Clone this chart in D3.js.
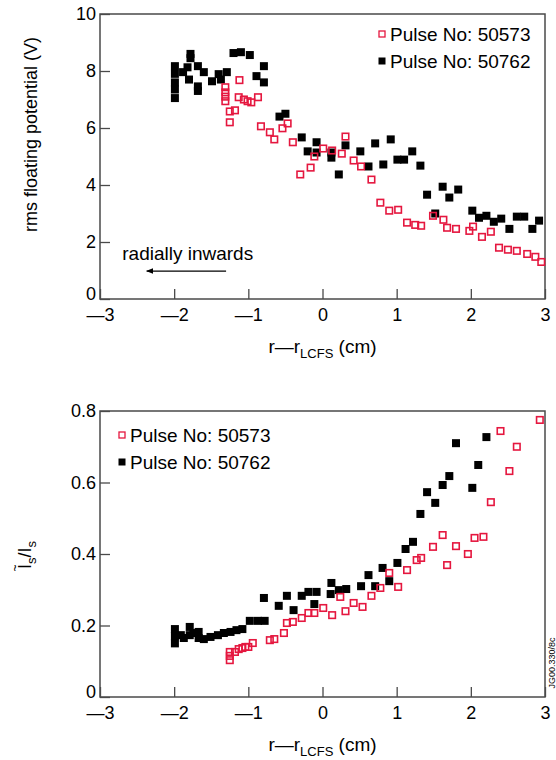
<!DOCTYPE html>
<html>
<head>
<meta charset="utf-8">
<script src="https://cdn.jsdelivr.net/npm/d3@7"></script>
<style>
  body { margin: 0; background: #fff; }
  text { font-family: "Liberation Sans", Arial, sans-serif; fill: #000; }
</style>
</head>
<body>
<script>
// tick values
var xTicks = [-3, -2, -1, 0, 1, 2, 3];
var potTicks = [0, 2, 4, 6, 8, 10];
var fluxTicks = [0, 0.2, 0.4, 0.6, 0.8];
var pulses = ["Pulse No: 50573", "Pulse No: 50762"];

// top panel: rms floating potential (V) vs r - r_LCFS (cm)
var pot50573 = [
  [-1.31, 7.43], [-1.31, 7.25], [-1.31, 7.1], [-1.31, 6.94], [-1.12, 7.68], [-1.13, 7.08],
  [-1.06, 7.0], [-1.01, 6.94], [-0.96, 6.9], [-0.87, 7.08], [-1.25, 6.58], [-1.18, 6.62],
  [-1.25, 6.2], [-0.83, 6.06], [-0.71, 5.85], [-0.65, 5.6], [-0.54, 5.99], [-0.47, 6.16],
  [-0.40, 5.5], [-0.30, 4.37], [-0.16, 4.61], [-0.11, 5.0], [0.01, 5.28], [0.13, 5.21],
  [0.26, 5.1], [0.31, 5.7], [0.42, 4.86], [0.52, 4.65], [0.66, 4.19], [0.78, 3.38],
  [0.90, 3.1], [1.02, 3.13], [1.14, 2.68], [1.25, 2.6], [1.33, 2.57], [1.49, 2.92],
  [1.63, 2.78], [1.68, 2.5], [1.80, 2.46], [1.98, 2.39], [2.03, 2.54], [2.15, 2.18],
  [2.27, 2.36], [2.38, 1.8], [2.50, 1.73], [2.62, 1.69], [2.76, 1.58], [2.87, 1.48],
  [2.95, 1.3]
];
var pot50762 = [
  [-1.78, 8.6], [-1.78, 8.45], [-1.99, 8.17], [-1.99, 7.9], [-1.99, 7.6], [-1.99, 7.35],
  [-1.99, 7.05], [-1.88, 7.96], [-1.82, 8.13], [-1.80, 7.7], [-1.68, 8.17], [-1.68, 7.46],
  [-1.68, 7.3], [-1.60, 7.96], [-1.49, 7.64], [-1.40, 7.89], [-1.37, 7.7], [-1.29, 7.96],
  [-1.20, 8.63], [-1.10, 8.66], [-0.98, 8.56], [-0.89, 7.82], [-0.79, 8.17], [-0.79, 7.6],
  [-0.58, 6.4], [-0.50, 6.5], [-0.28, 5.67], [-0.08, 5.5], [-0.20, 5.18], [-0.08, 5.14],
  [0.12, 5.14], [0.12, 4.96], [0.31, 5.39], [0.22, 4.37], [0.51, 5.18], [0.71, 5.46],
  [0.92, 5.6], [0.62, 4.65], [0.82, 4.72], [1.01, 4.89], [1.10, 4.89], [1.21, 5.18],
  [1.32, 4.68], [1.41, 3.66], [1.62, 3.94], [1.71, 3.56], [1.83, 3.84], [1.52, 3.0],
  [2.02, 3.1], [2.11, 2.85], [2.21, 2.92], [2.31, 2.71], [2.41, 2.82], [2.52, 2.46],
  [2.62, 2.89], [2.72, 2.89], [2.83, 2.46], [2.92, 2.75]
];

// bottom panel: relative ion saturation current fluctuation
var flux50573 = [
  [-1.25, 0.126], [-1.25, 0.115], [-1.25, 0.103], [-1.18, 0.126], [-1.13, 0.134],
  [-1.08, 0.137], [-1.04, 0.14], [-1.00, 0.14], [-0.94, 0.151], [-0.71, 0.159],
  [-0.65, 0.162], [-0.52, 0.179], [-0.48, 0.207], [-0.40, 0.21], [-0.28, 0.221],
  [-0.19, 0.235], [-0.11, 0.235], [0.01, 0.249], [0.13, 0.229], [0.24, 0.28],
  [0.31, 0.24], [0.42, 0.263], [0.54, 0.252], [0.66, 0.283], [0.78, 0.305],
  [0.90, 0.347], [1.02, 0.308], [1.14, 0.355], [1.27, 0.383], [1.33, 0.389],
  [1.49, 0.42], [1.62, 0.453], [1.68, 0.369], [1.80, 0.422], [1.96, 0.4],
  [2.05, 0.445], [2.17, 0.448], [2.27, 0.545], [2.52, 0.632], [2.62, 0.7],
  [2.40, 0.744], [2.93, 0.775]
];
var flux50762 = [
  [-1.99, 0.19], [-1.99, 0.17], [-1.99, 0.15], [-1.91, 0.173], [-1.87, 0.165],
  [-1.79, 0.196], [-1.79, 0.173], [-1.74, 0.179], [-1.67, 0.182], [-1.67, 0.165],
  [-1.60, 0.162], [-1.51, 0.168], [-1.41, 0.173], [-1.33, 0.179], [-1.24, 0.182],
  [-1.16, 0.187], [-1.08, 0.19], [-0.98, 0.213], [-0.87, 0.213], [-0.78, 0.213],
  [-0.79, 0.277], [-0.59, 0.255], [-0.48, 0.283], [-0.39, 0.243], [-0.28, 0.283],
  [-0.19, 0.294], [-0.08, 0.294], [-0.11, 0.26], [0.11, 0.288], [0.12, 0.319],
  [0.22, 0.299], [0.32, 0.302], [0.52, 0.31], [0.71, 0.31], [0.90, 0.324],
  [0.62, 0.341], [0.81, 0.361], [1.01, 0.375], [1.12, 0.414], [1.22, 0.434],
  [1.32, 0.512], [1.52, 0.543], [1.41, 0.573], [1.62, 0.593], [1.71, 0.618],
  [2.02, 0.585], [2.10, 0.649], [1.80, 0.71], [2.21, 0.727]
];

var red = "#e5173f";
var frameColor = "#4a4a4a";
var W = 556, H = 760;

var svg = d3.select("body").append("svg")
  .attr("width", W)
  .attr("height", H);

var x = d3.scaleLinear().domain([-3, 3]).range([100, 545]);

function fmtX(d) {
  return d < 0 ? "\u2014" + Math.abs(d) : String(d);
}

function drawPanel(p) {
  var y = d3.scaleLinear().domain(p.yDomain).range([p.bottom, p.top]);
  var g = svg.append("g");

  // frame
  g.append("rect")
    .attr("x", x(-3)).attr("y", p.top)
    .attr("width", x(3) - x(-3)).attr("height", p.bottom - p.top)
    .attr("fill", "none").attr("stroke", frameColor).attr("stroke-width", 1.5);

  var yAxis = d3.axisLeft(y).tickValues(p.yTicks).tickSize(-10).tickSizeOuter(0)
    .tickPadding(4).tickFormat(p.yFmt);
  var gy = g.append("g").attr("transform", "translate(" + x(-3) + ",0)").call(yAxis);
  // the zero label sits a little above the corner
  gy.selectAll("text").filter(function(d) { return d === 0; }).attr("y", -5);

  var xAxis = d3.axisBottom(x).tickValues(xTicks).tickSize(-10).tickSizeOuter(0)
    .tickPadding(9).tickFormat(fmtX);
  var gx = g.append("g").attr("transform", "translate(0," + p.bottom + ")").call(xAxis);

  [gx, gy].forEach(function(a) {
    a.select(".domain").remove();
    a.selectAll("line").attr("stroke", frameColor).attr("stroke-width", 1.3);
    a.selectAll("text").style("font-size", "18px").attr("fill", "#000");
  });

  // black series first, red open squares on top
  var s = 8;
  g.selectAll(".blk").data(p.black).enter().append("rect")
    .attr("x", function(d) { return x(d[0]) - s / 2; })
    .attr("y", function(d) { return y(d[1]) - s / 2; })
    .attr("width", s).attr("height", s)
    .attr("fill", "#000");

  g.selectAll(".rd").data(p.red).enter().append("rect")
    .attr("x", function(d) { return x(d[0]) - s / 2 + 0.75; })
    .attr("y", function(d) { return y(d[1]) - s / 2 + 0.75; })
    .attr("width", s - 1.5).attr("height", s - 1.5)
    .attr("fill", "none").attr("stroke", red).attr("stroke-width", 1.6);

  // legend
  var lg = g.append("g").attr("transform", "translate(" + p.legX + "," + p.legY + ")");
  pulses.forEach(function(name, i) {
    var row = lg.append("g").attr("transform", "translate(0," + (i * 27) + ")");
    if (i === 0) {
      row.append("rect").attr("x", -3).attr("y", -3).attr("width", 6).attr("height", 6)
        .attr("fill", "none").attr("stroke", red).attr("stroke-width", 1.3);
    } else {
      row.append("rect").attr("x", -3.5).attr("y", -3.5).attr("width", 7).attr("height", 7)
        .attr("fill", "#000");
    }
    row.append("text").attr("x", 8).attr("dy", "0.36em")
      .style("font-size", "19px").text(name);
  });

  // x axis title
  var xt = g.append("text")
    .attr("x", x(0)).attr("y", p.bottom + 54)
    .attr("text-anchor", "middle")
    .style("font-size", "19px");
  xt.append("tspan").text("r\u2014r");
  xt.append("tspan").attr("dy", 5).style("font-size", "13px").text("LCFS");
  xt.append("tspan").attr("dy", -5).text(" (cm)");

  return y;
}

var yTop = drawPanel({
  top: 14, bottom: 299, yDomain: [0, 10], yTicks: potTicks,
  yFmt: function(d) { return String(d); },
  black: pot50762, red: pot50573, legX: 382, legY: 34
});

var yBot = drawPanel({
  top: 411, bottom: 697, yDomain: [0, 0.8], yTicks: fluxTicks,
  yFmt: function(d) { return d === 0 ? "0" : d3.format(".1f")(d); },
  black: flux50762, red: flux50573, legX: 122, legY: 435
});

// y axis titles
svg.append("text")
  .attr("transform", "translate(37," + ((14 + 299) / 2 - 22) + ") rotate(-90)")
  .attr("text-anchor", "middle")
  .style("font-size", "18px")
  .text("rms floating potential (V)");

var it = svg.append("text")
  .attr("transform", "translate(31,555) rotate(-90)")
  .attr("text-anchor", "middle")
  .style("font-size", "18px");
it.append("tspan").text("I");
it.append("tspan").attr("dy", 5).style("font-size", "13px").text("s");
it.append("tspan").attr("dy", -5).text("/I");
it.append("tspan").attr("dy", 5).style("font-size", "13px").text("s");
// tilde over the first I
svg.append("text")
  .attr("transform", "translate(19,568) rotate(-90)")
  .attr("text-anchor", "middle")
  .style("font-size", "12px")
  .text("~");

// annotation: radially inwards
svg.append("defs").append("marker")
  .attr("id", "arr").attr("viewBox", "0 0 10 10")
  .attr("refX", 9).attr("refY", 5)
  .attr("markerWidth", 6).attr("markerHeight", 6)
  .attr("orient", "auto")
  .append("path").attr("d", "M0,1 L10,5 L0,9 Z").attr("fill", "#000");

svg.append("text")
  .attr("x", x(-2.7)).attr("y", yTop(1.37))
  .style("font-size", "19px")
  .text("radially inwards");

svg.append("line")
  .attr("x1", x(-1.3)).attr("x2", x(-2.37))
  .attr("y1", yTop(0.98)).attr("y2", yTop(0.98))
  .attr("stroke", "#000").attr("stroke-width", 1.2)
  .attr("marker-end", "url(#arr)");

// figure reference code
svg.append("text")
  .attr("transform", "translate(555,663) rotate(-90)")
  .attr("text-anchor", "middle")
  .style("font-size", "9px")
  .text("JG00.330/8c");
</script>
</body>
</html>
